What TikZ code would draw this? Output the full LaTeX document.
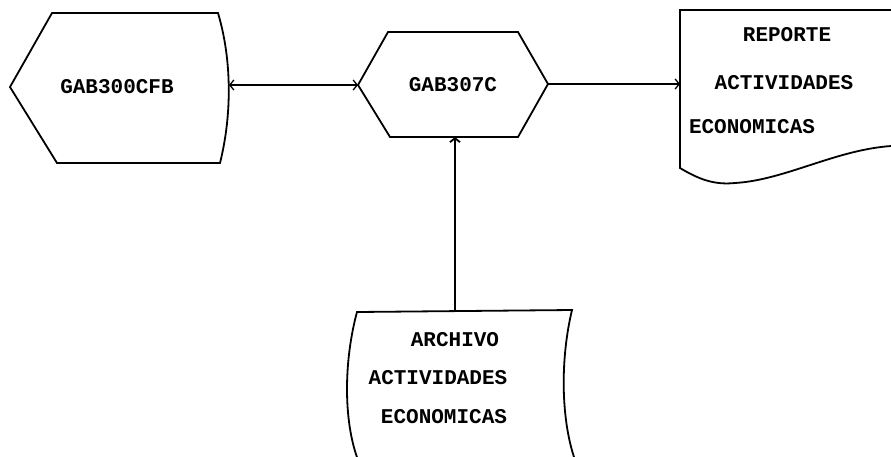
\documentclass[tikz,border=0pt]{standalone}
\usepackage{fontspec}
\newfontfamily\lblfont{Liberation Mono}
\usepackage{tikz}
\usetikzlibrary{arrows.meta}

\begin{document}
\begin{tikzpicture}[x=1pt,y=-1pt,line width=1.8pt,
  >={Straight Barb[length=4pt,width=10pt]},
  lbl/.style={font=\lblfont\bfseries\fontsize{21}{21}\selectfont,inner sep=0pt}]

\useasboundingbox (0,0) rectangle (891,456);
\clip (0,0) rectangle (891,456);

% programs
\draw (52,13) -- (218,13) .. controls (232,60) and (232,115) .. (220,163)
  -- (57,163) -- (10,87) -- cycle;
\draw (388,32) -- (518,32) -- (548,84) -- (518,137) -- (390,137) -- (358,85) -- cycle;

% report
\draw (891,10) -- (680,10) -- (680,168) .. controls (700,180) and (715,185) .. (735,183)
  .. controls (785,180) and (835,150) .. (891,146);

% file
\draw (358,460) .. controls (343,420) and (344,360) .. (357,312) -- (572,310)
  .. controls (560,360) and (561,420) .. (575,460);

\node[lbl] (GAB300) at (117,87) {GAB300CFB};
\node[lbl] (GAB307) at (453,85) {GAB307C};
\node[lbl] (R1) at (787,35) {REPORTE};
\node[lbl] (R2) at (784,83) {ACTIVIDADES};
\node[lbl] (R3) at (752,127) {ECONOMICAS};
\node[lbl] (A1) at (455,340) {ARCHIVO};
\node[lbl] (A2) at (438,378) {ACTIVIDADES};
\node[lbl] (A3) at (444,417) {ECONOMICAS};

\coordinate (GAB300e) at (229,85);
\coordinate (GAB307w) at (358,85);
\coordinate (GAB307e) at (548,84);
\coordinate (GAB307s) at (455,137);
\coordinate (REPw) at (680,84);
\coordinate (ARCn) at (455,311);

\draw[<->,line width=1.3pt] (GAB300e) to (GAB307w);
\draw[->,line width=1.3pt] (GAB307e) to (REPw);
\draw[->] (ARCn) to (GAB307s);

\end{tikzpicture}
\end{document}
